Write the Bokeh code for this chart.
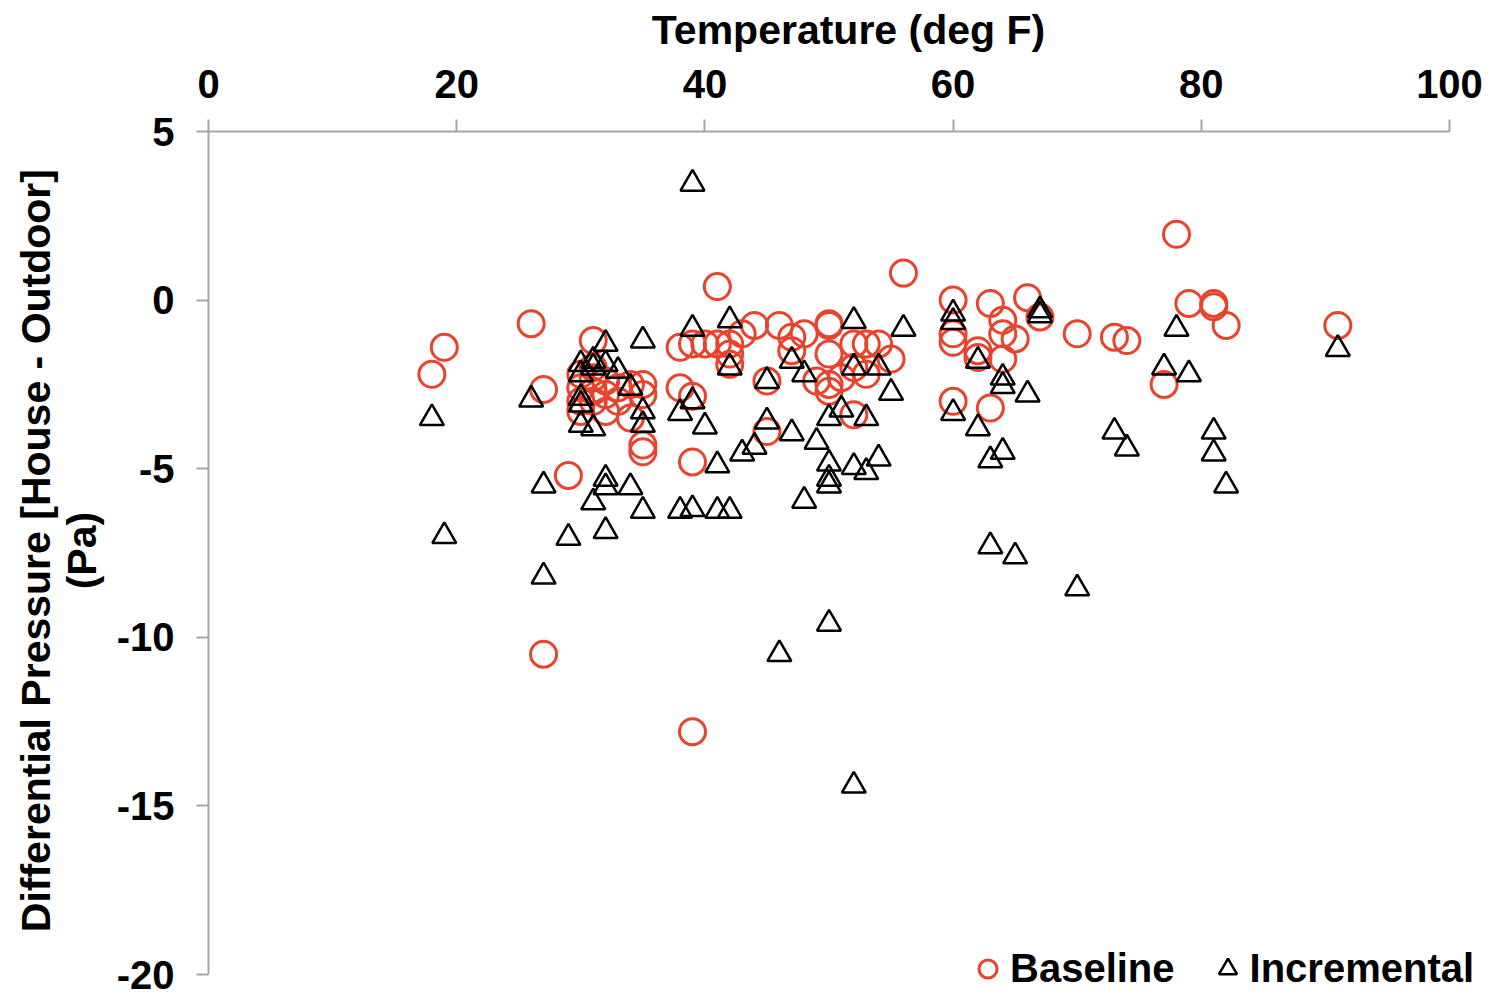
from bokeh.plotting import figure
from bokeh.models import Range1d, Legend, LegendItem
from bokeh.embed import file_html
from bokeh.resources import INLINE

# Baseline series (Temperature deg F, Differential Pressure Pa)
base_x = [18, 19, 26, 27, 27, 29, 31,
          30, 30, 30, 30, 31, 31, 31, 31, 32, 32, 32, 33, 33, 34, 34, 35, 35, 35, 35,
          38, 38, 39, 39, 39, 39, 40, 41, 41, 42, 42, 42, 43, 44, 45, 45, 46, 47, 47, 48,
          49, 50, 50, 50, 50, 50, 51, 52, 52, 52, 53, 53, 54, 55, 56,
          60, 60, 60, 60, 62, 62, 63, 63, 64, 64, 64, 65, 66, 67, 70, 73, 74, 77, 78,
          79, 81, 81, 82, 91]
base_y = [-2.2, -1.4, -0.7, -2.65, -10.5, -5.2, -1.2,
          -2.2, -2.6, -3.0, -3.3, -2.3, -2.7, -3.0, -2.0, -2.4, -2.8, -3.3, -2.6, -3.0, -2.5, -3.5, -2.5, -2.8, -4.3, -4.5,
          -1.4, -2.6, -1.3, -2.85, -4.8, -12.8, -1.3, 0.4, -1.3, -1.3, -1.6, -1.9, -1.0, -0.75, -2.4, -3.9, -0.75, -1.1, -1.5, -1.0,
          -2.4, -0.75, -0.7, -1.6, -2.5, -2.7, -2.3, -1.3, -2.0, -3.4, -1.3, -2.2, -1.3, -1.75, 0.8,
          0.0, -1.0, -1.25, -3.0, -1.5, -1.7, -0.1, -3.2, -0.6, -1.0, -1.75, -1.15, 0.07, -0.5, -1.0, -1.1, -1.2, -2.5, 1.95,
          -0.1, -0.1, -0.2, -0.75, -0.75]

# Incremental series
inc_x = [18, 19, 26, 27, 27, 29,
         30, 30, 30, 30, 30, 31, 31, 31, 31, 32, 32, 32, 32, 32, 33, 34, 34, 35, 35, 35, 35,
         38, 38, 39, 39, 39, 39, 40, 41, 41, 42, 42, 42, 43, 44, 45, 45, 46, 47, 47, 48, 48, 49,
         50, 50, 50, 50, 50, 51, 52, 52, 52, 52, 53, 53, 54, 54, 55, 56,
         60, 60, 60, 62, 62, 63, 63, 64, 64, 64, 65, 66, 67, 67, 70, 73, 74, 77, 78, 79, 81, 81, 82, 91]
inc_y = [-3.5, -7.0, -2.95, -5.5, -8.2, -7.05,
         -1.9, -2.2, -2.9, -3.1, -3.7, -1.8, -2.0, -3.8, -6.0, -1.3, -1.9, -5.3, -5.55, -6.85, -2.1, -2.6, -5.55, -1.2, -3.3, -3.7, -6.25,
         -3.35, -6.25, 3.45, -0.85, -3.0, -6.2, -3.75, -4.9, -6.25, -0.6, -2.0, -6.25, -4.55, -4.35, -2.4, -3.6, -10.5, -1.8, -3.95, -2.2, -5.95, -4.2,
         -3.5, -4.85, -5.3, -5.5, -9.6, -3.25, -0.62, -2.0, -4.95, -14.4, -3.5, -5.1, -2.0, -4.7, -2.75, -0.85,
         -0.4, -0.65, -3.35, -1.8, -3.8, -4.75, -7.3, -2.3, -2.55, -4.5, -7.6, -2.8, -0.3, -0.45, -8.55, -3.9, -4.4, -2.0, -0.85, -2.2, -3.9, -4.55, -5.5, -1.45]

x_ticks = [0, 20, 40, 60, 80, 100]
y_ticks = [5, 0, -5, -10, -15, -20]
y_tick_labels = ["5", "0", "-5", "-10", "-15", "-20"]

FONT = "Liberation Sans"
AXIS_COL = "#A6A6A6"
RED = "#E8432D"

# frame spans from the axes to the page edges; axis lines are bounded to the data span
X_END = 0 + (1488 - 208) / ((1449 - 208) / 100.0)
Y_START = 5 - (992 - 131) / ((974 - 131) / 25.0)

p = figure(width=1488, height=992, output_backend="svg", toolbar_location=None,
           x_range=Range1d(0, X_END), y_range=Range1d(Y_START, 5),
           x_axis_location="above",
           min_border_left=208, min_border_top=131, min_border_right=0, min_border_bottom=0)
p.outline_line_color = None
p.grid.visible = False
p.background_fill_color = "white"

r1 = p.scatter(base_x, base_y, marker="circle", size=26, fill_color=None,
               line_color=RED, line_width=3)
r2 = p.scatter(inc_x, inc_y, marker="triangle", size=24, fill_color=None,
               line_color="black", line_width=2.5)

for ax in (p.xaxis[0], p.yaxis[0]):
    ax.axis_line_color = AXIS_COL
    ax.axis_line_width = 2
    ax.major_tick_line_color = AXIS_COL
    ax.major_tick_line_width = 2
    ax.major_tick_in = 0
    ax.major_tick_out = 12
    ax.minor_tick_line_color = None
    ax.major_label_text_font = FONT
    ax.major_label_text_font_style = "bold"
    ax.major_label_text_font_size = "40px"
    ax.major_label_text_color = "black"
    ax.axis_label_text_font = FONT
    ax.axis_label_text_font_style = "bold"
    ax.axis_label_text_font_size = "41px"
    ax.axis_label_text_color = "black"

p.xaxis.bounds = (0, 100)
p.yaxis.bounds = (-20, 5)
p.xaxis.ticker = x_ticks
p.yaxis.ticker = y_ticks
p.yaxis.major_label_overrides = {t: s for t, s in zip(y_ticks, y_tick_labels)}
p.xaxis.axis_label = "Temperature (deg F)"
NB = "\u00a0\u00a0"
p.yaxis.axis_label = NB + "Differential Pressure [House - Outdoor]\n" + NB + "(Pa)"
p.yaxis.axis_label_text_line_height = 1.0
p.xaxis.major_label_standoff = 22
p.xaxis.axis_label_standoff = 14
p.yaxis.major_label_standoff = 22
p.yaxis.axis_label_standoff = 9

legend = Legend(items=[LegendItem(label="Baseline", renderers=[r1]),
                       LegendItem(label="Incremental", renderers=[r2])],
                orientation="horizontal", location=(757, 1),
                glyph_width=45, glyph_height=45, label_height=45,
                label_standoff=0, spacing=30, padding=0, margin=0,
                border_line_color=None, background_fill_alpha=0,
                label_text_font=FONT, label_text_font_style="bold",
                label_text_font_size="40px", label_text_color="black")
p.add_layout(legend)

open("out.html", "w").write(file_html(p, INLINE))
